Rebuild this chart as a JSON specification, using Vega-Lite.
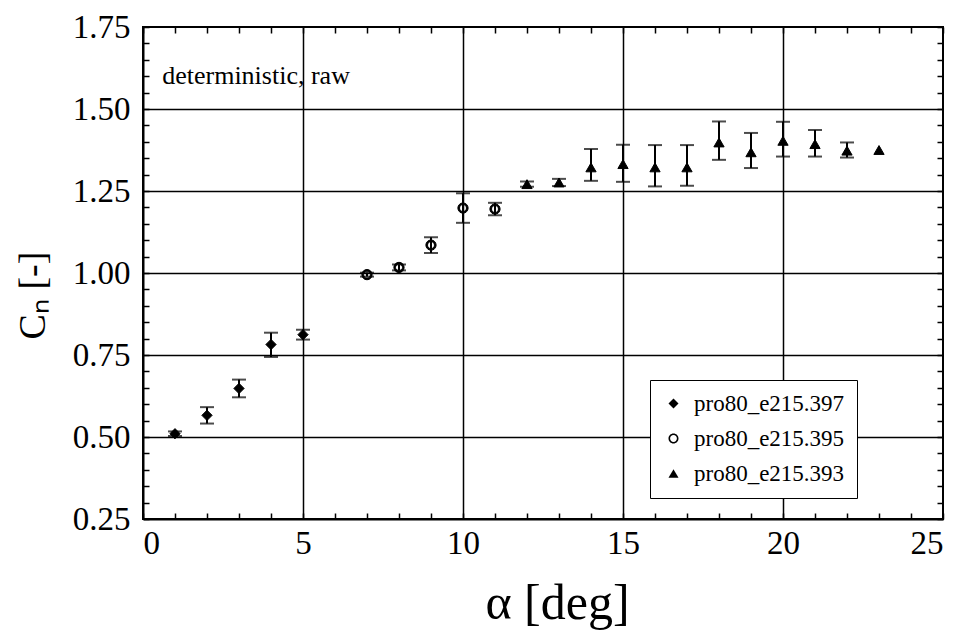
{
  "$schema": "https://vega.github.io/schema/vega-lite/v6.json",
  "width": 800,
  "height": 492,
  "autosize": {"type": "none"},
  "padding": {"left": 143, "top": 27, "right": 29, "bottom": 112},
  "background": "white",
  "config": {
    "view": {"stroke": "black", "strokeWidth": 2},
    "font": "Liberation Serif",
    "axis": {
      "domainColor": "black", "domainWidth": 2,
      "tickColor": "black", "tickWidth": 1.5,
      "labelFont": "Liberation Serif", "labelFontSize": 33, "labelColor": "black",
      "titleFont": "Liberation Serif", "titleColor": "black", "titleFontWeight": "normal"
    },
    "legend": {
      "orient": "none", "legendX": 507, "legendY": 353,
      "fillColor": "white", "strokeColor": "black",
      "padding": 12, "rowPadding": 11, "labelFontSize": 23, "labelFont": "Liberation Serif",
      "labelColor": "black", "symbolSize": 100, "symbolStrokeWidth": 1, "labelOffset": 9,
      "symbolFillColor": "black", "symbolStrokeColor": "black", "labelLimit": 400
    }
  },
  "datasets": {
    "pts": [
      {"a": 1, "cn": 0.51, "lo": 0.503, "hi": 0.517, "s": "pro80_e215.397"},
      {"a": 2, "cn": 0.566, "lo": 0.541, "hi": 0.591, "s": "pro80_e215.397"},
      {"a": 3, "cn": 0.648, "lo": 0.621, "hi": 0.675, "s": "pro80_e215.397"},
      {"a": 4, "cn": 0.782, "lo": 0.744, "hi": 0.818, "s": "pro80_e215.397"},
      {"a": 5, "cn": 0.812, "lo": 0.797, "hi": 0.827, "s": "pro80_e215.397"},
      {"a": 7, "cn": 0.995, "lo": 0.989, "hi": 1.001, "s": "pro80_e215.395"},
      {"a": 8, "cn": 1.017, "lo": 1.008, "hi": 1.026, "s": "pro80_e215.395"},
      {"a": 9, "cn": 1.085, "lo": 1.061, "hi": 1.109, "s": "pro80_e215.395"},
      {"a": 10, "cn": 1.198, "lo": 1.153, "hi": 1.243, "s": "pro80_e215.395"},
      {"a": 11, "cn": 1.195, "lo": 1.176, "hi": 1.214, "s": "pro80_e215.395"},
      {"a": 12, "cn": 1.271, "lo": 1.263, "hi": 1.279, "s": "pro80_e215.393"},
      {"a": 13, "cn": 1.276, "lo": 1.265, "hi": 1.287, "s": "pro80_e215.393"},
      {"a": 14, "cn": 1.322, "lo": 1.281, "hi": 1.378, "s": "pro80_e215.393"},
      {"a": 15, "cn": 1.332, "lo": 1.278, "hi": 1.391, "s": "pro80_e215.393"},
      {"a": 16, "cn": 1.322, "lo": 1.264, "hi": 1.39, "s": "pro80_e215.393"},
      {"a": 17, "cn": 1.322, "lo": 1.266, "hi": 1.39, "s": "pro80_e215.393"},
      {"a": 18, "cn": 1.398, "lo": 1.345, "hi": 1.462, "s": "pro80_e215.393"},
      {"a": 19, "cn": 1.368, "lo": 1.32, "hi": 1.427, "s": "pro80_e215.393"},
      {"a": 20, "cn": 1.403, "lo": 1.355, "hi": 1.461, "s": "pro80_e215.393"},
      {"a": 21, "cn": 1.393, "lo": 1.355, "hi": 1.436, "s": "pro80_e215.393"},
      {"a": 22, "cn": 1.373, "lo": 1.352, "hi": 1.398, "s": "pro80_e215.393"},
      {"a": 23, "cn": 1.375, "lo": null, "hi": null, "s": "pro80_e215.393"}
    ]
  },
  "layer": [
    {
      "data": {"name": "pts"},
      "transform": [{"filter": "datum.lo != null"}],
      "mark": {"type": "errorbar", "ticks": {"size": 14, "thickness": 2, "color": "black"}, "thickness": 2, "color": "black"},
      "encoding": {
        "x": {
          "field": "a", "type": "quantitative",
          "scale": {"domain": [0, 25], "nice": false, "zero": false},
          "axis": {
            "orient": "bottom", "title": "α [deg]", "titleFontSize": 50, "titlePadding": 18, "titleX": 414,
            "values": [0,1,2,3,4,5,6,7,8,9,10,11,12,13,14,15,16,17,18,19,20,21,22,23,24,25],
            "labelExpr": "datum.value % 5 === 0 ? datum.label : ''",
            "tickSize": -6, "labelPadding": 14,
            "grid": true, "gridColor": "black", "gridWidth": 1.5,
            "gridOpacity": {"condition": {"test": "datum.value % 5 === 0 && datum.value > 0 && datum.value < 25", "value": 1}, "value": 0}
          }
        },
        "y": {
          "field": "lo", "type": "quantitative",
          "scale": {"domain": [0.25, 1.75], "nice": false, "zero": false},
          "axis": {
            "orient": "left", "title": "Cₙ [-]", "titleFontSize": 38, "titlePadding": 20, "titleY": 268,
            "values": [0.25,0.3,0.35,0.4,0.45,0.5,0.55,0.6,0.65,0.7,0.75,0.8,0.85,0.9,0.95,1.0,1.05,1.1,1.15,1.2,1.25,1.3,1.35,1.4,1.45,1.5,1.55,1.6,1.65,1.7,1.75],
            "labelExpr": "abs(datum.value * 4 - round(datum.value * 4)) < 0.001 ? format(datum.value, '.2f') : ''",
            "tickSize": -6, "labelPadding": 19,
            "grid": true, "gridColor": "black", "gridWidth": 1.5,
            "gridOpacity": {"condition": {"test": "abs(datum.value * 4 - round(datum.value * 4)) < 0.001 && datum.value > 0.26 && datum.value < 1.74", "value": 1}, "value": 0}
          }
        },
        "y2": {"field": "hi"}
      }
    },
    {
      "data": {"name": "pts"},
      "mark": {"type": "point", "filled": true, "fill": "black", "opacity": 1, "stroke": "black", "strokeWidth": 1, "size": 105},
      "encoding": {
        "x": {
          "field": "a", "type": "quantitative",
          "axis": {
            "orient": "top", "title": null, "labels": false, "domain": false, "grid": false,
            "values": [0,1,2,3,4,5,6,7,8,9,10,11,12,13,14,15,16,17,18,19,20,21,22,23,24,25],
            "tickSize": -6
          }
        },
        "y": {
          "field": "cn", "type": "quantitative",
          "axis": {
            "orient": "right", "title": null, "labels": false, "domain": false, "grid": false,
            "values": [0.25,0.3,0.35,0.4,0.45,0.5,0.55,0.6,0.65,0.7,0.75,0.8,0.85,0.9,0.95,1.0,1.05,1.1,1.15,1.2,1.25,1.3,1.35,1.4,1.45,1.5,1.55,1.6,1.65,1.7,1.75],
            "tickSize": -6
          }
        },
        "shape": {
          "field": "s", "type": "nominal", "title": null,
          "scale": {"domain": ["pro80_e215.397", "pro80_e215.395", "pro80_e215.393"], "range": ["diamond", "M1,0A1,1,0,1,1,-1,0A1,1,0,1,1,1,0ZM0.68,0A0.68,0.68,0,1,0,-0.68,0A0.68,0.68,0,1,0,0.68,0Z", "triangle-up"]},
          "legend": {"labelFont": "Times New Roman", "labelColor": "black", "labelExpr": "datum.label + '            '"}
        }
      }
    },
    {
      "data": {"values": [{"t": "deterministic, raw", "a": 0.6, "cn": 1.6}]},
      "mark": {"type": "text", "align": "left", "baseline": "middle", "font": "Liberation Serif", "fontSize": 26, "color": "black"},
      "encoding": {
        "x": {"field": "a", "type": "quantitative", "axis": null},
        "y": {"field": "cn", "type": "quantitative", "axis": null},
        "text": {"field": "t"}
      }
    }
  ],
  "resolve": {"axis": {"x": "independent", "y": "independent"}}
}
